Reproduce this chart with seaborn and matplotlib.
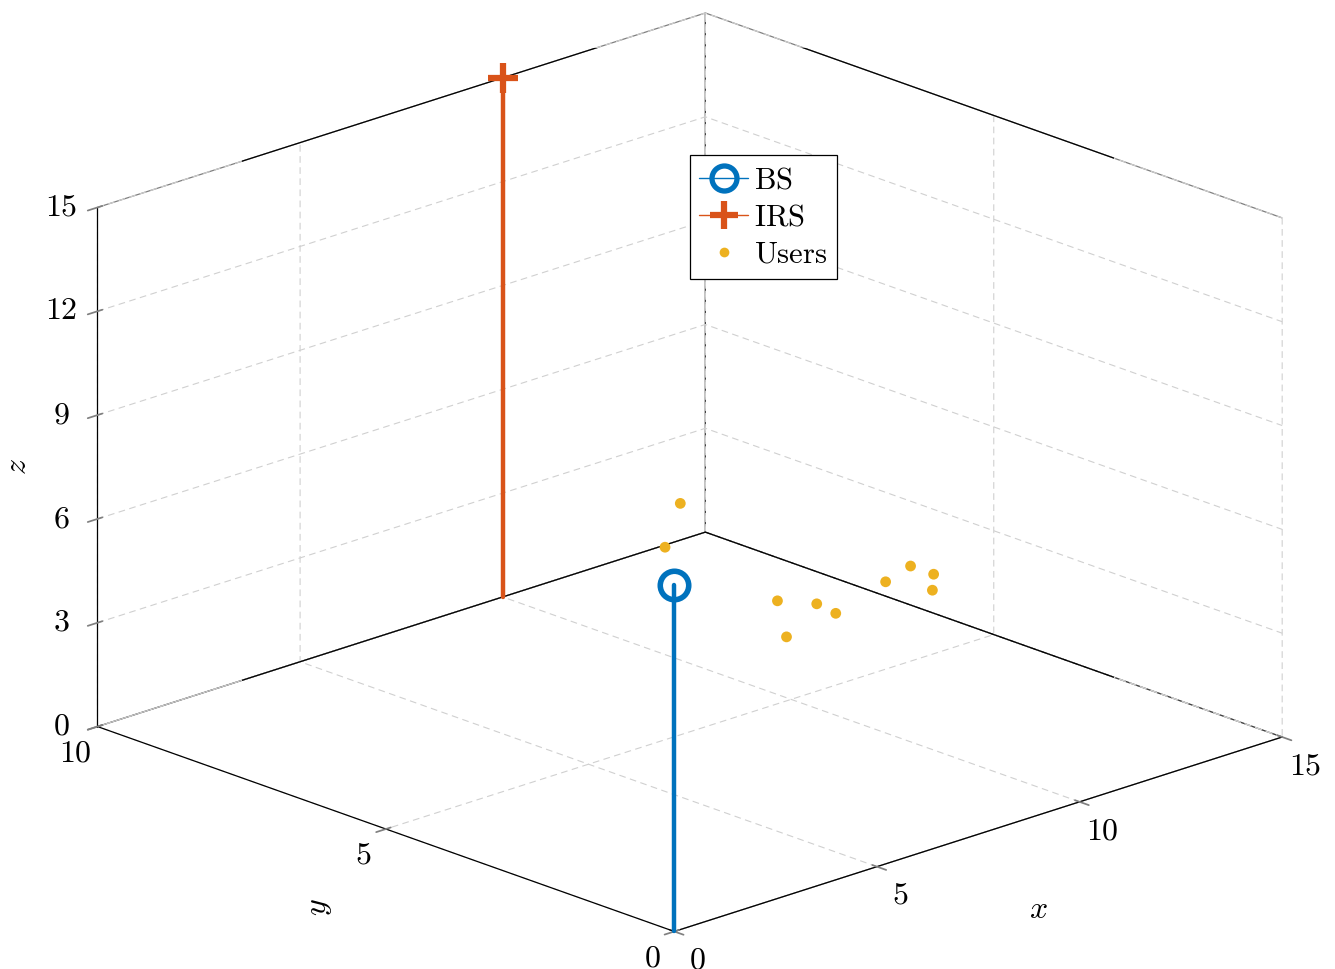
import matplotlib
matplotlib.use('Agg')
import matplotlib.pyplot as plt
import seaborn as sns
from matplotlib.lines import Line2D

# ---------------- data ----------------
bs_x, bs_y, bs_z = [0], [0], [10]
irs_x, irs_y, irs_z = [10], [10], [15]
users_x = [9.4, 7.6, 7.1, 5.9, 7.5, 7.4, 9.2, 10.1, 10.1, 9.5]
users_y = [6.5, 5.5, 3.2, 2.2, 2.8, 2.4, 2.8, 3.0, 2.6, 2.2]
users_z = [5, 5, 5, 5, 5, 5, 5, 5, 5, 5]
x_ticks = [0, 5, 10, 15]
y_ticks = [0, 5, 10]
z_ticks = [0, 3, 6, 9, 12, 15]
legend_labels = ['BS', 'IRS', 'Users']

BS_C = '#0072BD'
IRS_C = '#D95319'
USR_C = '#EDB120'

sns.set_theme(style='white')
plt.rcParams['font.family'] = ['DejaVu Serif']
plt.rcParams['mathtext.fontset'] = 'cm'
plt.rcParams['text.color'] = 'black'
plt.rcParams['axes.labelcolor'] = 'black'
plt.rcParams['xtick.color'] = 'black'
plt.rcParams['ytick.color'] = 'black'

fig = plt.figure(figsize=(13.35, 9.69), dpi=100)
ax = fig.add_axes([0.0579, 0.0505, 0.9, 0.9], projection='3d', computed_zorder=False)
ax.set_proj_type('ortho')
ax.view_init(elev=19.7, azim=-133.5)
ax.set_box_aspect((1, 1, 0.658), zoom=1.455)
ax.set_xlim(0, 15)
ax.set_ylim(0, 10)
ax.set_zlim(0, 15)

for axis in (ax.xaxis, ax.yaxis, ax.zaxis):
    axis.pane.fill = False
    axis.pane.set_edgecolor('black')
    axis.pane.set_linewidth(0.9)
    axis.line.set_color('black')
    axis.line.set_linewidth(0.9)
    axis._axinfo['grid'].update(color='#d0d0d0', linestyle=(0, (6, 4)), linewidth=0.8)
    axis._axinfo['tick'].update(color='gray')

ax.set_xticks(x_ticks)
ax.set_yticks(y_ticks)
ax.set_zticks(z_ticks)
ax.set_xticklabels([f'${t}$' for t in x_ticks])
ax.set_yticklabels([f'${t}$' for t in y_ticks])
ax.set_zticklabels([f'${t}$' for t in z_ticks])
ax.tick_params(axis='both', labelsize=23, color='gray', labelcolor='black')
for labels in (ax.get_xticklabels(), ax.get_yticklabels(), ax.get_zticklabels()):
    plt.setp(labels, va='center', ha='center')
ax.xaxis.set_tick_params(pad=5)
ax.yaxis.set_tick_params(pad=4)
ax.zaxis.set_tick_params(pad=2)

ax.yaxis.set_rotate_label(False)
ax.zaxis.set_rotate_label(False)
ax.set_xlabel('$x$', fontsize=23, labelpad=13)
ax.set_ylabel('$y$', fontsize=23, rotation=90, labelpad=15)
ax.set_zlabel('$z$', fontsize=23, rotation=90, labelpad=1)

# solid box edges on top of the grid (taken from the axis limits)
x0, x1 = ax.get_xlim()
y0, y1 = ax.get_ylim()
z0, z1 = ax.get_zlim()
edge_kw = dict(color='black', lw=0.9, zorder=1)
ax.plot([x0, x1], [y1, y1], [z1, z1], **edge_kw)
ax.plot([x1, x1], [y0, y1], [z1, z1], **edge_kw)
ax.plot([x0, x1], [y1, y1], [z0, z0], **edge_kw)
ax.plot([x1, x1], [y0, y1], [z0, z0], **edge_kw)
ax.plot([x1, x1], [y0, y0], [z0, z1], **edge_kw)

# stems
ax.plot([irs_x[0], irs_x[0]], [irs_y[0], irs_y[0]], [0, irs_z[0]], color=IRS_C, lw=3.2,
        zorder=3, clip_on=False)
ax.plot(irs_x, irs_y, irs_z, marker='+', ms=22, mew=4.5, color=IRS_C, ls='none',
        zorder=4, clip_on=False)
ax.scatter(users_x, users_y, users_z, s=60, color=USR_C, edgecolors='none',
           depthshade=False, zorder=5, clip_on=False)
ax.plot([bs_x[0], bs_x[0]], [bs_y[0], bs_y[0]], [0, bs_z[0]], color=BS_C, lw=3.2,
        zorder=6, clip_on=False)
ax.plot(bs_x, bs_y, bs_z, marker='o', ms=20.5, mew=4, mfc='none', mec=BS_C, ls='none',
        zorder=7, clip_on=False)

handles = [
    Line2D([], [], color=BS_C, lw=1.0, marker='o', ms=18, mew=3.8, mfc='none', mec=BS_C),
    Line2D([], [], color=IRS_C, lw=1.0, marker='+', ms=20, mew=4.5, mec=IRS_C),
    Line2D([], [], color=USR_C, ls='none', marker='o', ms=7, mec='none'),
]
leg = ax.legend(handles, [f'$\\mathrm{{{t}}}$' for t in legend_labels],
                loc='upper left', bbox_to_anchor=(0.517, 0.840),
                bbox_transform=fig.transFigure, borderaxespad=0,
                fancybox=False, framealpha=1, edgecolor='black',
                fontsize=22, handlelength=1.6, handletextpad=0.2,
                labelspacing=0.2, borderpad=0.3)
leg.get_frame().set_linewidth(0.9)

fig.savefig('out.png', dpi=100)
